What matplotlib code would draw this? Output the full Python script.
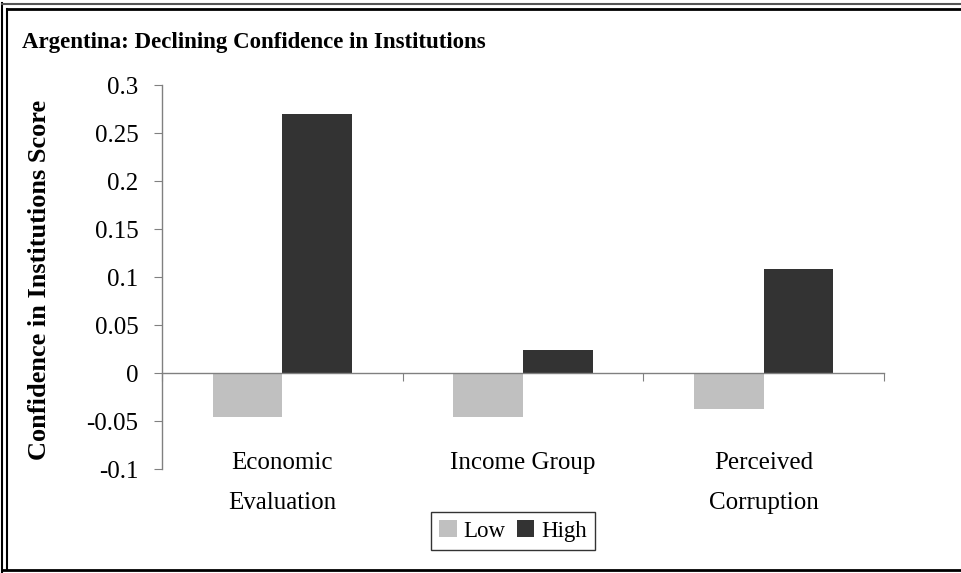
import numpy as np
import matplotlib.pyplot as plt
from matplotlib.lines import Line2D

categories = ['Economic\nEvaluation', 'Income Group', 'Perceived\nCorruption']
low_vals = [-0.046, -0.046, -0.038]
high_vals = [0.270, 0.024, 0.108]
yticks = [-0.1, -0.05, 0, 0.05, 0.1, 0.15, 0.2, 0.25, 0.3]
ytick_labels = ['-0.1', '-0.05', '0', '0.05', '0.1', '0.15', '0.2', '0.25', '0.3']

plt.rcParams['font.family'] = 'Liberation Serif'

fig = plt.figure(figsize=(9.61, 5.73), dpi=100)
ax = fig.add_axes([162/961, 1 - 469/573, (884 - 162)/961, (469 - 85)/573])

x = np.arange(len(categories))
w = 0.29
ax.bar(x - w/2, low_vals, w, color='#c0c0c0', label='Low')
ax.bar(x + w/2, high_vals, w, color='#333333', label='High')

ax.set_xlim(-0.5, 2.5)
ax.set_ylim(-0.1, 0.3)
ax.set_yticks(yticks)
ax.set_yticklabels(ytick_labels, fontsize=18)
ax.set_xticks([-0.5, 0.5, 1.5, 2.5])
ax.set_xticklabels([])

ax.spines['top'].set_visible(False)
ax.spines['right'].set_visible(False)
ax.spines['bottom'].set_position(('data', 0))
for s in ['left', 'bottom']:
    ax.spines[s].set_color('#808080')
    ax.spines[s].set_linewidth(1)
ax.tick_params(axis='y', direction='out', length=6, color='#808080', pad=11)
ax.tick_params(axis='x', direction='out', length=6, color='#808080')

# category labels sit a bit above the axis bottom, like the original
for i, lab in enumerate(categories):
    ax.text(i, -0.1 + 17/960, lab, ha='center', va='top', fontsize=18,
            linespacing=2.05, clip_on=False)

fig.text(22/961, 1 - 48/573, 'Argentina: Declining Confidence in Institutions',
         fontsize=16.5, fontweight='bold', va='baseline', ha='left')
fig.text(40/961, 1 - 280/573, 'Confidence in Institutions Score', fontsize=19,
         fontweight='bold', rotation=90, ha='center', va='center')

leg = fig.legend(loc='center', bbox_to_anchor=(513/961, 1 - 531/573), ncol=2,
                 fontsize=16.5, frameon=True, fancybox=False, handlelength=0.75,
                 handleheight=0.75, handletextpad=0.3, columnspacing=0.5,
                 borderpad=0.35, borderaxespad=0)
leg.get_frame().set_edgecolor('black')
leg.get_frame().set_linewidth(1)

# double border around the chart area
fig.add_artist(Line2D([2/961, 2/961], [0, 1 - 3/573], transform=fig.transFigure, color='black', lw=1.5))
fig.add_artist(Line2D([7/961, 7/961], [3/573, 1 - 9/573], transform=fig.transFigure, color='black', lw=1.5))
fig.add_artist(Line2D([2/961, 1], [1 - 4/573, 1 - 4/573], transform=fig.transFigure, color='#555555', lw=1.5))
fig.add_artist(Line2D([7/961, 1], [1 - 9/573, 1 - 9/573], transform=fig.transFigure, color='black', lw=2))
fig.add_artist(Line2D([2/961, 1], [3/573, 3/573], transform=fig.transFigure, color='black', lw=2))

fig.savefig('out.png', dpi=100)
